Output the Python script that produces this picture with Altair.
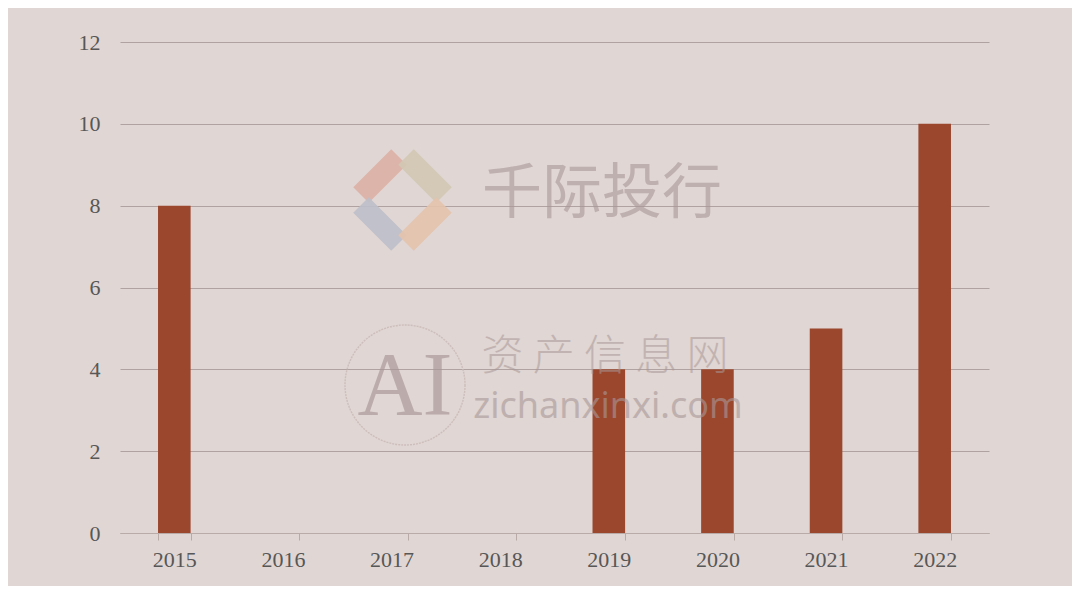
import altair as alt
import pandas as pd

years = ["2015", "2016", "2017", "2018", "2019", "2020", "2021", "2022"]
counts = [8, 0, 0, 0, 4, 4, 5, 10]

df = pd.DataFrame({"year": years, "count": counts})

W, H = 869, 491
OX, OY = 120, 42  # page position of plot origin (8px margin + padding)
FONT = "Liberation Serif"

x = alt.X("year:N", sort=years, title=None,
          scale=alt.Scale(paddingInner=0.7, paddingOuter=0.35),
          axis=alt.Axis(labelAngle=0, tickBand="extent", domainColor="#b8aba8",
                        tickColor="#b8aba8", tickSize=7, labelPadding=9,
                        labelFont=FONT, labelFontSize=22, labelColor="#575757",
                        grid=False))
y = alt.Y("count:Q", title=None,
          scale=alt.Scale(domain=[0, 12]),
          axis=alt.Axis(values=[0, 2, 4, 6, 8, 10, 12], domain=False, ticks=False,
                        labelPadding=20, labelFont=FONT, labelFontSize=22,
                        labelColor="#575757", gridColor="#b0a2a0", gridWidth=1.2))

bars = alt.Chart(df).mark_bar(color="#9a472e").encode(x=x, y=y)

one = pd.DataFrame({"t": [1]})


def seg(x1, y1, x2, y2, color):
    return alt.Chart(one).mark_rule(color=color, strokeWidth=22, strokeCap="butt",
                                    opacity=0.9).encode(
        x=alt.value(x1 - OX), y=alt.value(y1 - OY),
        x2=alt.value(x2 - OX), y2=alt.value(y2 - OY))


logo = [
    seg(361, 195, 399, 157, "#dcb0a5"),
    seg(406, 157, 444, 195, "#d1c8b3"),
    seg(361, 205, 399, 243, "#bdbfc9"),
    seg(406, 243, 444, 205, "#e4c3ac"),
]


def txt(t, px, py, size, font, color, opacity=1.0, baseline="middle", weight="normal"):
    return alt.Chart(pd.DataFrame({"t": [t]})).mark_text(
        font=font, fontSize=size, color=color, opacity=opacity, align="center",
        baseline=baseline, fontWeight=weight).encode(
        text="t:N", x=alt.value(px - OX), y=alt.value(py - OY))


wm_color = "#a99797"
wm1 = txt("千际投行", 602, 195, 60, "Noto Sans CJK SC", wm_color, 0.6)
wm2 = txt("资 产 信 息 网", 605, 357, 42, "Noto Sans CJK SC", wm_color, 0.55, weight=300)
wm3 = txt("zichanxinxi.com", 608, 418, 36, "Noto Sans", wm_color, 0.6, baseline="alphabetic")
wm4 = txt("AI", 405, 415, 90, FONT, "#a89696", 0.65, baseline="alphabetic")
ring = alt.Chart(one).mark_point(
    shape="circle", size=14400, color="#cbbcba", strokeWidth=1.4, opacity=0.9,
    strokeDash=[2, 1], filled=False).encode(x=alt.value(405 - OX), y=alt.value(385 - OY))

chart = alt.layer(bars, *logo, ring, wm4, wm1, wm2, wm3).properties(
    width=W, height=H,
    autosize=alt.AutoSizeParams(type="none"),
    padding={"left": 112, "top": 34, "right": 83, "bottom": 53},
    background="#e0d6d3",
).configure_view(stroke=None)

chart.save("out.html", embed_options={"renderer": "svg", "actions": False})
